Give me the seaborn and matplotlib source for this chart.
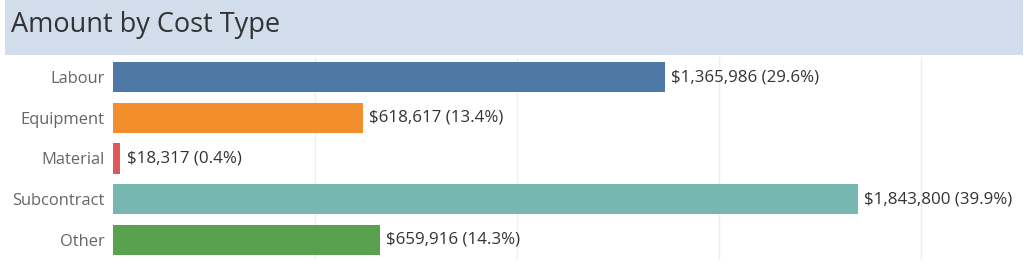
import matplotlib
matplotlib.use("Agg")
import matplotlib.pyplot as plt
from matplotlib.patches import Rectangle
import seaborn as sns
import pandas as pd

categories = ["Labour", "Equipment", "Material", "Subcontract", "Other"]
amounts = [1365986, 618617, 18317, 1843800, 659916]
percents = [29.6, 13.4, 0.4, 39.9, 14.3]
colors = ["#4E79A7", "#F28E2B", "#E15759", "#76B7B2", "#59A14F"]
grid_ticks = [500000, 1000000, 1500000, 2000000]

sns.set_theme(style="white")
plt.rcParams["font.family"] = ["Open Sans", "DejaVu Sans"]

df = pd.DataFrame({"Cost Type": categories, "Amount": amounts})

W, H = 1024, 266
fig = plt.figure(figsize=(W / 100, H / 100), dpi=100)
fig.patch.set_facecolor("white")

# title band
fig.patches.append(Rectangle((5 / W, (H - 55) / H), (1018) / W, 55 / H,
                             transform=fig.transFigure, facecolor="#D1DDEA",
                             edgecolor="none", zorder=0))
fig.text(11 / W, (H - 25) / H, "Amount by Cost Type", fontsize=19.5,
         color="#333333", va="center", ha="left")

ax = fig.add_axes([113 / W, (H - 260.2) / H, (W - 113) / W, (260.2 - 56.7) / H])
sns.barplot(data=df, y="Cost Type", x="Amount", hue="Cost Type",
            palette=colors, order=categories, orient="h", width=0.74,
            legend=False, ax=ax, saturation=1, edgecolor="none", linewidth=0)

ax.set_xlim(0, 2.255e6)
ax.set_xticks(grid_ticks)
ax.xaxis.grid(True, color="#EEEEEE", linewidth=1)
ax.set_axisbelow(True)
ax.tick_params(axis="x", bottom=False, labelbottom=False)
ax.tick_params(axis="y", left=False, length=0, labelsize=11.9,
               labelcolor="#666666", pad=6)
ax.set_xlabel("")
ax.set_ylabel("")
for s in ax.spines.values():
    s.set_visible(False)

for i, (a, p) in enumerate(zip(amounts, percents)):
    ax.annotate(f"${a:,} ({p}%)", xy=(a, i), xytext=(4.5, 0),
                textcoords="offset points", va="center", ha="left",
                fontsize=12.2, color="#333333")

fig.savefig("out.png", dpi=100)
